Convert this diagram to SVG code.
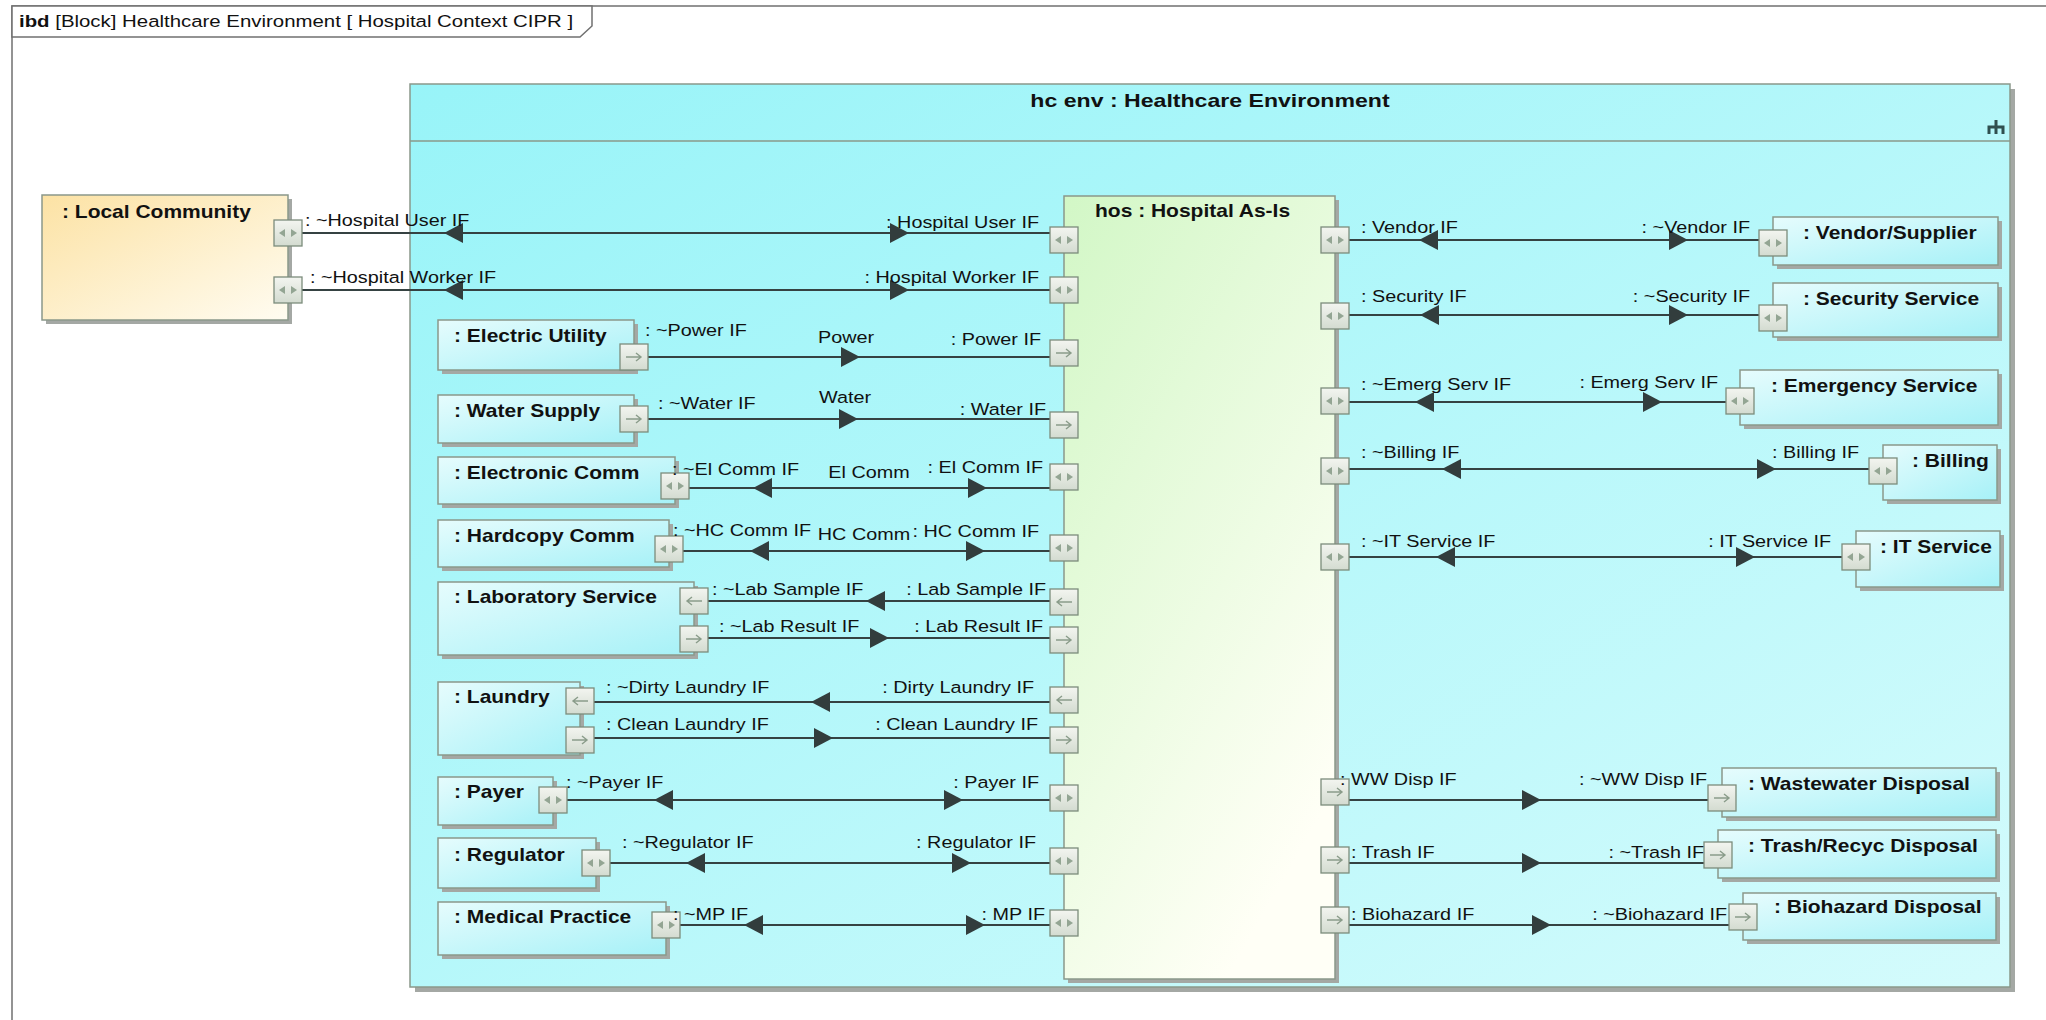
<svg xmlns="http://www.w3.org/2000/svg" xmlns:xlink="http://www.w3.org/1999/xlink" width="2046" height="1020" viewBox="0 0 2046 1020">
<style>
text{font-family:"Liberation Sans",Arial,sans-serif;fill:#111}
.nm{font-size:17.5px;font-weight:bold}
.lb{font-size:16.5px}
.e{text-anchor:end}
.m{text-anchor:middle}
.ti{font-size:17px}
.blk{fill:url(#gBlk);stroke:#8a988a;stroke-width:1.5}
.sh{fill:#a4a8a4}
.port{fill:url(#gPort);stroke:#7c8c7c;stroke-width:1.3}
.cn line{stroke:#354242;stroke-width:2}
.ah{fill:#323d3d}
</style>
<defs>
<linearGradient id="gEnv" x1="0" y1="0" x2="1" y2="1"><stop offset="0" stop-color="#98F4F8"/><stop offset="1" stop-color="#D4FBFC"/></linearGradient>
<linearGradient id="gBlk" x1="0" y1="0" x2="1" y2="1"><stop offset="0" stop-color="#E6FCFD"/><stop offset="1" stop-color="#A6F1F7"/></linearGradient>
<linearGradient id="gHos" x1="0" y1="0" x2="0.6" y2="1"><stop offset="0" stop-color="#D2F7C6"/><stop offset="1" stop-color="#FFFFF6"/></linearGradient>
<linearGradient id="gLoc" x1="0" y1="0" x2="1" y2="1"><stop offset="0" stop-color="#FCE2A4"/><stop offset="1" stop-color="#FFFCF1"/></linearGradient>
<linearGradient id="gPort" x1="0" y1="0" x2="0" y2="1"><stop offset="0" stop-color="#F3F5F0"/><stop offset="1" stop-color="#D3DBD0"/></linearGradient>
<g id="pB"><rect x="-14" y="-13" width="28" height="26" class="port"/><path d="M-9,0 L-3,-4 L-3,4 Z M9,0 L3,-4 L3,4 Z" fill="#93a593"/></g>
<g id="pR"><rect x="-14" y="-13" width="28" height="26" class="port"/><path d="M-8,0 H6 M2,-4 L7,0 L2,4" stroke="#8a9c8a" stroke-width="1.4" fill="none"/></g>
<g id="pL"><rect x="-14" y="-13" width="28" height="26" class="port"/><path d="M8,0 H-6 M-2,-4 L-7,0 L-2,4" stroke="#8a9c8a" stroke-width="1.4" fill="none"/></g>
<path id="aR" d="M0,0 L-19,-10 L-19,10 Z" class="ah"/>
<path id="aL" d="M0,0 L19,-10 L19,10 Z" class="ah"/>
</defs>
<rect width="2046" height="1020" fill="#fff"/>

<g id="frame">
<path d="M12,1040 V6 H2060" fill="none" stroke="#707070" stroke-width="1.5"/>
<path d="M12,6 H592 V26 L580,37 H12 Z" fill="#fff" stroke="#707070" stroke-width="1.5"/>
<text class="ti" transform="translate(19 27) scale(1.2 1)"><tspan font-weight="bold">ibd</tspan> [Block] Healthcare Environment [ Hospital Context CIPR ]</text>
</g>

<g id="hc-env">
<rect x="415" y="89" width="1600" height="903" class="sh"/>
<rect x="410" y="84" width="1600" height="903" fill="url(#gEnv)" stroke="#8a988a" stroke-width="1.5"/>
<line x1="410" y1="141" x2="2010" y2="141" stroke="#8a988a" stroke-width="1.3"/>
<text class="nm m" font-size="19" transform="translate(1210 107) scale(1.32 1)">hc env : Healthcare Environment</text>
<path d="M1996,120 V127 M1989,134 V127 H2003 V134 M1996,127 V134" stroke="#2f4f4f" stroke-width="3" fill="none"/>
</g>

<g id="hos">
<rect x="1068" y="200" width="271" height="783" class="sh"/>
<rect x="1064" y="196" width="271" height="783" fill="url(#gHos)" stroke="#8a988a" stroke-width="1.5"/>
<text class="nm" transform="translate(1095 217) scale(1.2 1)">hos : Hospital As-Is</text>
</g>

<g id="local-community">
<rect x="46" y="199" width="246" height="125" class="sh"/>
<rect x="42" y="195" width="246" height="125" fill="url(#gLoc)" stroke="#8a988a" stroke-width="1.5"/>
<text class="nm" transform="translate(62 218) scale(1.2 1)">: Local Community</text>
</g>
<g id="electric-utility"><rect x="442" y="324" width="196" height="50" class="sh"/><rect x="438" y="320" width="196" height="50" class="blk"/><text class="nm" transform="translate(454 342) scale(1.2 1)">: Electric Utility</text></g>
<g id="water-supply"><rect x="442" y="399" width="196" height="48" class="sh"/><rect x="438" y="395" width="196" height="48" class="blk"/><text class="nm" transform="translate(454 417) scale(1.2 1)">: Water Supply</text></g>
<g id="electronic-comm"><rect x="442" y="461" width="237" height="47" class="sh"/><rect x="438" y="457" width="237" height="47" class="blk"/><text class="nm" transform="translate(454 479) scale(1.2 1)">: Electronic Comm</text></g>
<g id="hardcopy-comm"><rect x="442" y="524" width="231" height="47" class="sh"/><rect x="438" y="520" width="231" height="47" class="blk"/><text class="nm" transform="translate(454 542) scale(1.2 1)">: Hardcopy Comm</text></g>
<g id="laboratory-service"><rect x="442" y="586" width="256" height="73" class="sh"/><rect x="438" y="582" width="256" height="73" class="blk"/><text class="nm" transform="translate(454 603) scale(1.2 1)">: Laboratory Service</text></g>
<g id="laundry"><rect x="442" y="686" width="142" height="73" class="sh"/><rect x="438" y="682" width="142" height="73" class="blk"/><text class="nm" transform="translate(454 703) scale(1.2 1)">: Laundry</text></g>
<g id="payer"><rect x="442" y="781" width="115" height="48" class="sh"/><rect x="438" y="777" width="115" height="48" class="blk"/><text class="nm" transform="translate(454 798) scale(1.2 1)">: Payer</text></g>
<g id="regulator"><rect x="442" y="842" width="158" height="50" class="sh"/><rect x="438" y="838" width="158" height="50" class="blk"/><text class="nm" transform="translate(454 861) scale(1.2 1)">: Regulator</text></g>
<g id="medical-practice"><rect x="442" y="906" width="228" height="53" class="sh"/><rect x="438" y="902" width="228" height="53" class="blk"/><text class="nm" transform="translate(454 923) scale(1.2 1)">: Medical Practice</text></g>

<g id="vendor-supplier"><rect x="1777" y="221" width="225" height="48" class="sh"/><rect x="1773" y="217" width="225" height="48" class="blk"/><text class="nm" transform="translate(1803 239) scale(1.2 1)">: Vendor/Supplier</text></g>
<g id="security-service"><rect x="1777" y="287" width="225" height="54" class="sh"/><rect x="1773" y="283" width="225" height="54" class="blk"/><text class="nm" transform="translate(1803 305) scale(1.2 1)">: Security Service</text></g>
<g id="emergency-service"><rect x="1744" y="374" width="258" height="55" class="sh"/><rect x="1740" y="370" width="258" height="55" class="blk"/><text class="nm" transform="translate(1771 392) scale(1.2 1)">: Emergency Service</text></g>
<g id="billing"><rect x="1887" y="449" width="114" height="55" class="sh"/><rect x="1883" y="445" width="114" height="55" class="blk"/><text class="nm" transform="translate(1912 467) scale(1.2 1)">: Billing</text></g>
<g id="it-service"><rect x="1860" y="535" width="144" height="56" class="sh"/><rect x="1856" y="531" width="144" height="56" class="blk"/><text class="nm" transform="translate(1880 553) scale(1.2 1)">: IT Service</text></g>
<g id="wastewater-disposal"><rect x="1726" y="772" width="274" height="49" class="sh"/><rect x="1722" y="768" width="274" height="49" class="blk"/><text class="nm" transform="translate(1748 790) scale(1.2 1)">: Wastewater Disposal</text></g>
<g id="trash-recyc-disposal"><rect x="1722" y="834" width="278" height="48" class="sh"/><rect x="1718" y="830" width="278" height="48" class="blk"/><text class="nm" transform="translate(1748 852) scale(1.2 1)">: Trash/Recyc Disposal</text></g>
<g id="biohazard-disposal"><rect x="1747" y="897" width="253" height="47" class="sh"/><rect x="1743" y="893" width="253" height="47" class="blk"/><text class="nm" transform="translate(1774 913) scale(1.2 1)">: Biohazard Disposal</text></g>

<g id="connectors" class="cn">
<line x1="302" y1="233" x2="1050" y2="233"/><use href="#aL" x="444" y="233"/><use href="#aR" x="909" y="233"/>
<line x1="302" y1="290" x2="1050" y2="290"/><use href="#aL" x="444" y="290"/><use href="#aR" x="909" y="290"/>
<line x1="648" y1="357" x2="1050" y2="357"/><use href="#aR" x="860" y="357"/>
<line x1="648" y1="419" x2="1050" y2="419"/><use href="#aR" x="858" y="419"/>
<line x1="689" y1="488" x2="1050" y2="488"/><use href="#aL" x="753" y="488"/><use href="#aR" x="987" y="488"/>
<line x1="683" y1="551" x2="1050" y2="551"/><use href="#aL" x="750" y="551"/><use href="#aR" x="985" y="551"/>
<line x1="708" y1="601" x2="1050" y2="601"/><use href="#aL" x="866" y="601"/>
<line x1="708" y1="638" x2="1050" y2="638"/><use href="#aR" x="889" y="638"/>
<line x1="594" y1="702" x2="1050" y2="702"/><use href="#aL" x="811" y="702"/>
<line x1="594" y1="738" x2="1050" y2="738"/><use href="#aR" x="833" y="738"/>
<line x1="567" y1="800" x2="1050" y2="800"/><use href="#aL" x="654" y="800"/><use href="#aR" x="963" y="800"/>
<line x1="610" y1="863" x2="1050" y2="863"/><use href="#aL" x="686" y="863"/><use href="#aR" x="971" y="863"/>
<line x1="680" y1="925" x2="1050" y2="925"/><use href="#aL" x="744" y="925"/><use href="#aR" x="985" y="925"/>
<line x1="1349" y1="240" x2="1759" y2="240"/><use href="#aL" x="1419" y="240"/><use href="#aR" x="1688" y="240"/>
<line x1="1349" y1="315" x2="1759" y2="315"/><use href="#aL" x="1420" y="315"/><use href="#aR" x="1688" y="315"/>
<line x1="1349" y1="402" x2="1726" y2="402"/><use href="#aL" x="1415" y="402"/><use href="#aR" x="1662" y="402"/>
<line x1="1349" y1="469" x2="1869" y2="469"/><use href="#aL" x="1442" y="469"/><use href="#aR" x="1776" y="469"/>
<line x1="1349" y1="557" x2="1842" y2="557"/><use href="#aL" x="1436" y="557"/><use href="#aR" x="1755" y="557"/>
<line x1="1349" y1="800" x2="1708" y2="800"/><use href="#aR" x="1541" y="800"/>
<line x1="1349" y1="863" x2="1704" y2="863"/><use href="#aR" x="1541" y="863"/>
<line x1="1349" y1="925" x2="1729" y2="925"/><use href="#aR" x="1551" y="925"/>
</g>

<g id="ports">
<use href="#pB" x="288" y="233"/><use href="#pB" x="288" y="290"/>
<use href="#pR" x="634" y="357"/><use href="#pR" x="634" y="419"/>
<use href="#pB" x="675" y="486"/><use href="#pB" x="669" y="549"/>
<use href="#pL" x="694" y="601"/><use href="#pR" x="694" y="639"/>
<use href="#pL" x="580" y="701"/><use href="#pR" x="580" y="740"/>
<use href="#pB" x="553" y="800"/><use href="#pB" x="596" y="863"/><use href="#pB" x="666" y="925"/>
<use href="#pB" x="1064" y="240"/><use href="#pB" x="1064" y="290"/>
<use href="#pR" x="1064" y="353"/><use href="#pR" x="1064" y="425"/>
<use href="#pB" x="1064" y="477"/><use href="#pB" x="1064" y="548"/>
<use href="#pL" x="1064" y="602"/><use href="#pR" x="1064" y="640"/>
<use href="#pL" x="1064" y="700"/><use href="#pR" x="1064" y="740"/>
<use href="#pB" x="1064" y="798"/><use href="#pB" x="1064" y="861"/><use href="#pB" x="1064" y="923"/>
<use href="#pB" x="1335" y="240"/><use href="#pB" x="1335" y="316"/><use href="#pB" x="1335" y="401"/>
<use href="#pB" x="1335" y="471"/><use href="#pB" x="1335" y="557"/>
<use href="#pR" x="1335" y="792"/><use href="#pR" x="1335" y="860"/><use href="#pR" x="1335" y="920"/>
<use href="#pB" x="1773" y="243"/><use href="#pB" x="1773" y="318"/><use href="#pB" x="1740" y="401"/>
<use href="#pB" x="1883" y="471"/><use href="#pB" x="1856" y="557"/>
<use href="#pR" x="1722" y="798"/><use href="#pR" x="1718" y="855"/><use href="#pR" x="1743" y="917"/>
</g>

<g id="labels">
<text class="lb" transform="translate(305 226) scale(1.2 1)">: ~Hospital User IF</text>
<text class="lb e" transform="translate(1039 228) scale(1.2 1)">: Hospital User IF</text>
<text class="lb" transform="translate(310 283) scale(1.2 1)">: ~Hospital Worker IF</text>
<text class="lb e" transform="translate(1039 283) scale(1.2 1)">: Hospital Worker IF</text>
<text class="lb" transform="translate(645 336) scale(1.2 1)">: ~Power IF</text>
<text class="lb m" transform="translate(846 343) scale(1.2 1)">Power</text>
<text class="lb e" transform="translate(1041 345) scale(1.2 1)">: Power IF</text>
<text class="lb" transform="translate(658 409) scale(1.2 1)">: ~Water IF</text>
<text class="lb m" transform="translate(845 403) scale(1.2 1)">Water</text>
<text class="lb e" transform="translate(1046 415) scale(1.2 1)">: Water IF</text>
<text class="lb" transform="translate(672 475) scale(1.2 1)">: ~El Comm IF</text>
<text class="lb m" transform="translate(869 478) scale(1.2 1)">El Comm</text>
<text class="lb e" transform="translate(1043 473) scale(1.2 1)">: El Comm IF</text>
<text class="lb" transform="translate(673 536) scale(1.2 1)">: ~HC Comm IF</text>
<text class="lb m" transform="translate(864 540) scale(1.2 1)">HC Comm</text>
<text class="lb e" transform="translate(1039 537) scale(1.2 1)">: HC Comm IF</text>
<text class="lb" transform="translate(712 595) scale(1.2 1)">: ~Lab Sample IF</text>
<text class="lb e" transform="translate(1046 595) scale(1.2 1)">: Lab Sample IF</text>
<text class="lb" transform="translate(719 632) scale(1.2 1)">: ~Lab Result IF</text>
<text class="lb e" transform="translate(1043 632) scale(1.2 1)">: Lab Result IF</text>
<text class="lb" transform="translate(606 693) scale(1.2 1)">: ~Dirty Laundry IF</text>
<text class="lb e" transform="translate(1034 693) scale(1.2 1)">: Dirty Laundry IF</text>
<text class="lb" transform="translate(606 730) scale(1.2 1)">: Clean Laundry IF</text>
<text class="lb e" transform="translate(1038 730) scale(1.2 1)">: Clean Laundry IF</text>
<text class="lb" transform="translate(566 788) scale(1.2 1)">: ~Payer IF</text>
<text class="lb e" transform="translate(1039 788) scale(1.2 1)">: Payer IF</text>
<text class="lb" transform="translate(622 848) scale(1.2 1)">: ~Regulator IF</text>
<text class="lb e" transform="translate(1036 848) scale(1.2 1)">: Regulator IF</text>
<text class="lb" transform="translate(673 920) scale(1.2 1)">: ~MP IF</text>
<text class="lb e" transform="translate(1045 920) scale(1.2 1)">: MP IF</text>
<text class="lb" transform="translate(1361 233) scale(1.2 1)">: Vendor IF</text>
<text class="lb e" transform="translate(1750 233) scale(1.2 1)">: ~Vendor IF</text>
<text class="lb" transform="translate(1361 302) scale(1.2 1)">: Security IF</text>
<text class="lb e" transform="translate(1750 302) scale(1.2 1)">: ~Security IF</text>
<text class="lb" transform="translate(1361 390) scale(1.2 1)">: ~Emerg Serv IF</text>
<text class="lb e" transform="translate(1718 388) scale(1.2 1)">: Emerg Serv IF</text>
<text class="lb" transform="translate(1361 458) scale(1.2 1)">: ~Billing IF</text>
<text class="lb e" transform="translate(1859 458) scale(1.2 1)">: Billing IF</text>
<text class="lb" transform="translate(1361 547) scale(1.2 1)">: ~IT Service IF</text>
<text class="lb e" transform="translate(1831 547) scale(1.2 1)">: IT Service IF</text>
<text class="lb" transform="translate(1340 785) scale(1.2 1)">: WW Disp IF</text>
<text class="lb e" transform="translate(1707 785) scale(1.2 1)">: ~WW Disp IF</text>
<text class="lb" transform="translate(1351 858) scale(1.2 1)">: Trash IF</text>
<text class="lb e" transform="translate(1704 858) scale(1.2 1)">: ~Trash IF</text>
<text class="lb" transform="translate(1351 920) scale(1.2 1)">: Biohazard IF</text>
<text class="lb e" transform="translate(1727 920) scale(1.2 1)">: ~Biohazard IF</text>
</g>
</svg>
